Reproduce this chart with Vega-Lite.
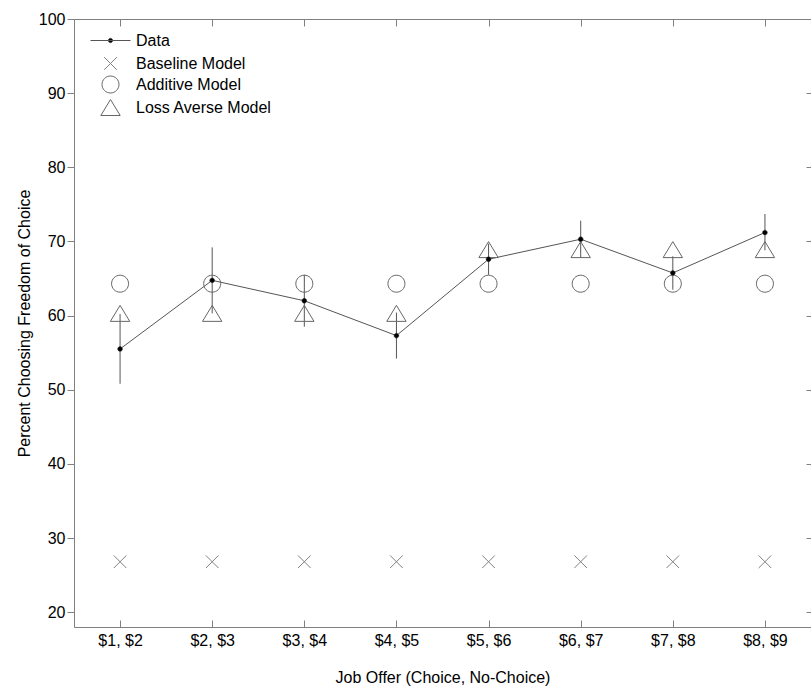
{
  "$schema": "https://vega.github.io/schema/vega-lite/v6.json",
  "width": 737,
  "height": 608,
  "autosize": {"type": "none"},
  "padding": {"left": 74, "top": 19, "right": 0, "bottom": 64},
  "background": "white",
  "config": {
    "font": "Liberation Sans",
    "view": {"stroke": null},
    "axis": {
      "labelFont": "Liberation Sans",
      "titleFont": "Liberation Sans",
      "labelFontSize": 16,
      "titleFontSize": 16,
      "titleFontWeight": "normal",
      "labelColor": "#000000",
      "titleColor": "#000000",
      "domainColor": "#808080",
      "tickColor": "#808080",
      "domain": true,
      "grid": false
    },
    "legend": {
      "labelFont": "Liberation Sans",
      "labelFontSize": 16,
      "labelColor": "#000000"
    }
  },
  "data": {
    "values": [
      {"offer": "$1, $2", "series": "Baseline Model", "pct": 26.8},
      {"offer": "$2, $3", "series": "Baseline Model", "pct": 26.8},
      {"offer": "$3, $4", "series": "Baseline Model", "pct": 26.8},
      {"offer": "$4, $5", "series": "Baseline Model", "pct": 26.8},
      {"offer": "$5, $6", "series": "Baseline Model", "pct": 26.8},
      {"offer": "$6, $7", "series": "Baseline Model", "pct": 26.8},
      {"offer": "$7, $8", "series": "Baseline Model", "pct": 26.8},
      {"offer": "$8, $9", "series": "Baseline Model", "pct": 26.8},
      {"offer": "$1, $2", "series": "Additive Model", "pct": 64.3},
      {"offer": "$2, $3", "series": "Additive Model", "pct": 64.3},
      {"offer": "$3, $4", "series": "Additive Model", "pct": 64.3},
      {"offer": "$4, $5", "series": "Additive Model", "pct": 64.3},
      {"offer": "$5, $6", "series": "Additive Model", "pct": 64.3},
      {"offer": "$6, $7", "series": "Additive Model", "pct": 64.3},
      {"offer": "$7, $8", "series": "Additive Model", "pct": 64.3},
      {"offer": "$8, $9", "series": "Additive Model", "pct": 64.3},
      {"offer": "$1, $2", "series": "Loss Averse Model", "pct": 60.3},
      {"offer": "$2, $3", "series": "Loss Averse Model", "pct": 60.3},
      {"offer": "$3, $4", "series": "Loss Averse Model", "pct": 60.3},
      {"offer": "$4, $5", "series": "Loss Averse Model", "pct": 60.3},
      {"offer": "$5, $6", "series": "Loss Averse Model", "pct": 68.9},
      {"offer": "$6, $7", "series": "Loss Averse Model", "pct": 68.9},
      {"offer": "$7, $8", "series": "Loss Averse Model", "pct": 68.9},
      {"offer": "$8, $9", "series": "Loss Averse Model", "pct": 68.9},
      {"offer": "$1, $2", "series": "Data", "pct": 55.5, "lo": 50.8, "hi": 60.2},
      {"offer": "$2, $3", "series": "Data", "pct": 64.75, "lo": 60.3, "hi": 69.2},
      {"offer": "$3, $4", "series": "Data", "pct": 62.0, "lo": 58.5, "hi": 65.5},
      {"offer": "$4, $5", "series": "Data", "pct": 57.3, "lo": 54.2, "hi": 60.4},
      {"offer": "$5, $6", "series": "Data", "pct": 67.6, "lo": 65.5, "hi": 69.7},
      {"offer": "$6, $7", "series": "Data", "pct": 70.3, "lo": 67.8, "hi": 72.8},
      {"offer": "$7, $8", "series": "Data", "pct": 65.75, "lo": 63.5, "hi": 68.0},
      {"offer": "$8, $9", "series": "Data", "pct": 71.2, "lo": 68.8, "hi": 73.7}
    ]
  },
  "resolve": {"axis": {"x": "independent", "y": "independent"}},
  "layer": [
    {
      "transform": [{"filter": "datum.series === 'Data'"}],
      "mark": {"type": "line", "strokeWidth": 1},
      "encoding": {
        "x": {
          "field": "offer", "type": "ordinal",
          "scale": {"type": "point", "padding": 0.5, "domain": ["$1, $2","$2, $3","$3, $4","$4, $5","$5, $6","$6, $7","$7, $8","$8, $9"]},
          "axis": {"orient": "bottom", "title": "Job Offer (Choice, No-Choice)", "domain": true, "tickSize": -7, "labelPadding": 12, "labelAngle": 0, "titlePadding": 21}
        },
        "y": {
          "field": "pct", "type": "quantitative",
          "scale": {"domain": [18, 100], "nice": false, "zero": false},
          "axis": {"orient": "left", "title": "Percent Choosing Freedom of Choice", "values": [20,30,40,50,60,70,80,90,100], "tickSize": 7, "labelPadding": 2, "titlePadding": 6}
        },
        "color": {
          "field": "series", "type": "nominal",
          "scale": {"domain": ["Data"], "range": ["#555555"]},
          "legend": {
            "title": null, "orient": "none", "legendX": 26, "legendY": 11,
            "symbolType": "M-2,0L2,0M0.22,0A0.22,0.22,0,1,1,-0.22,0A0.22,0.22,0,1,1,0.22,0Z",
            "symbolSize": 400, "symbolFillColor": "#000000", "symbolStrokeColor": "#555555", "symbolStrokeWidth": 1,
            "labelOffset": 15, "padding": 0,
            "encode": {"symbols": {"update": {"fill": {"value": "#000000"}, "stroke": {"value": "#555555"}}}}
          }
        }
      }
    },
    {
      "transform": [{"filter": "datum.series === 'Data'"}],
      "mark": {"type": "rule", "color": "#555555", "strokeWidth": 1},
      "encoding": {
        "x": {
          "field": "offer", "type": "ordinal",
          "axis": {"orient": "top", "title": null, "labels": false, "domain": true, "ticks": true, "tickSize": -7}
        },
        "y": {
          "field": "lo", "type": "quantitative",
          "axis": {"orient": "right", "title": null, "labels": false, "values": [20,30,40,50,60,70,80,90,100], "tickSize": -5}
        },
        "y2": {"field": "hi"}
      }
    },
    {
      "transform": [{"filter": "datum.series !== 'Data'"}],
      "mark": {"type": "point", "size": 400, "strokeWidth": 1, "opacity": 1, "filled": false},
      "encoding": {
        "x": {"field": "offer", "type": "ordinal", "axis": null},
        "y": {"field": "pct", "type": "quantitative", "axis": null},
        "shape": {
          "field": "series", "type": "nominal",
          "scale": {
            "domain": ["Baseline Model", "Additive Model", "Loss Averse Model"],
            "range": [
              "M-0.63,-0.63L0.63,0.63M-0.63,0.63L0.63,-0.63",
              "M0.85,0A0.85,0.85,0,1,1,-0.85,0A0.85,0.85,0,1,1,0.85,0Z",
              "M0,-0.8L0.97,0.8L-0.97,0.8Z"
            ]
          },
          "legend": {
            "title": null, "orient": "none", "legendX": 26, "legendY": 34,
            "symbolSize": 400, "labelOffset": 15, "rowPadding": 2, "padding": 0, "symbolStrokeWidth": 1
          }
        },
        "stroke": {
          "field": "series", "type": "nominal",
          "scale": {
            "domain": ["Baseline Model", "Additive Model", "Loss Averse Model"],
            "range": ["#808080", "#666666", "#666666"]
          },
          "legend": {
            "title": null, "orient": "none", "legendX": 26, "legendY": 34,
            "symbolSize": 400, "labelOffset": 15, "rowPadding": 2, "padding": 0, "symbolStrokeWidth": 1
          }
        }
      }
    },
    {
      "transform": [{"filter": "datum.series === 'Data'"}],
      "mark": {"type": "point", "size": 400, "filled": true, "fill": "#000000", "stroke": "#333333", "strokeWidth": 0.5, "opacity": 1,
               "shape": "M0.24,0A0.24,0.24,0,1,1,-0.24,0A0.24,0.24,0,1,1,0.24,0Z"},
      "encoding": {
        "x": {"field": "offer", "type": "ordinal", "axis": null},
        "y": {"field": "pct", "type": "quantitative", "axis": null}
      }
    }
  ]
}
